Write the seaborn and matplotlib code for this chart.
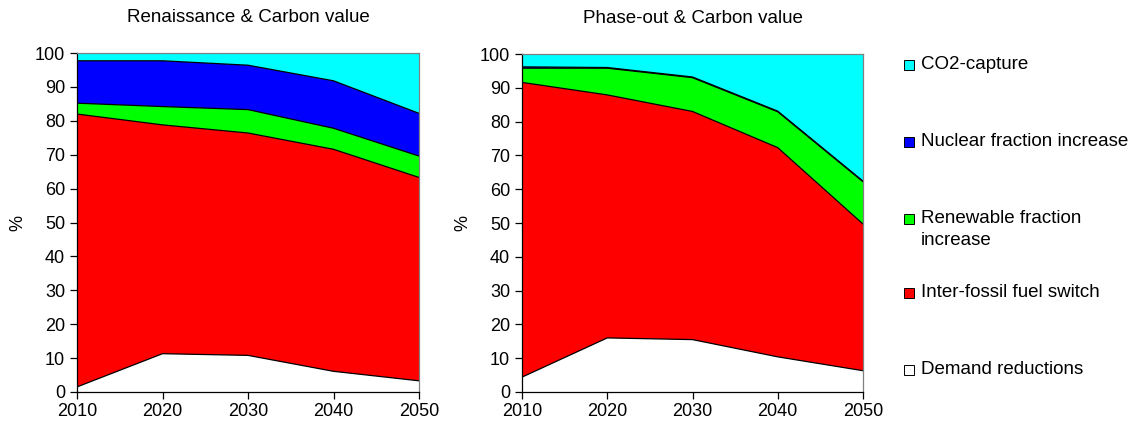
import numpy as np
import pandas as pd
import matplotlib
matplotlib.use("Agg")
import matplotlib.pyplot as plt
from matplotlib.patches import Rectangle
import seaborn as sns

years = [2010, 2020, 2030, 2040, 2050]
categories = ["Demand reductions", "Inter-fossil fuel switch",
              "Renewable fraction\nincrease", "Nuclear fraction increase", "CO2-capture"]
colors = ["#FFFFFF", "#FF0000", "#00FF00", "#0000FF", "#00FFFF"]

# Renaissance & Carbon value (shares, %)
ren_demand = [1.5, 11.3, 10.8, 6.1, 3.3]
ren_fossil = [80.5, 67.5, 65.6, 65.5, 60.0]
ren_renew = [3.2, 5.4, 6.9, 6.2, 6.3]
ren_nuclear = [12.5, 13.5, 13.1, 14.0, 12.6]
ren_ccs = [2.3, 2.3, 3.6, 8.2, 17.8]

# Phase-out & Carbon value (shares, %)
pho_demand = [4.4, 16.0, 15.5, 10.4, 6.3]
pho_fossil = [87.2, 71.9, 67.5, 61.9, 43.4]
pho_renew = [4.2, 7.9, 10.0, 10.6, 12.5]
pho_nuclear = [0.4, 0.2, 0.2, 0.2, 0.2]
pho_ccs = [3.8, 4.0, 6.8, 16.9, 37.6]

titles = ["Renaissance & Carbon value", "Phase-out & Carbon value"]

sns.set_style("white")
plt.rcParams["font.family"] = ["Liberation Sans", "DejaVu Sans"]
plt.rcParams["text.color"] = "black"
plt.rcParams["axes.labelcolor"] = "black"
plt.rcParams["xtick.color"] = "black"
plt.rcParams["ytick.color"] = "black"

fig = plt.figure(figsize=(11.38, 4.30), dpi=100)
W, H = 1138, 430
ax1 = fig.add_axes([77 / W, 1 - 392 / H, (419 - 77) / W, (392 - 53) / H])
ax2 = fig.add_axes([522 / W, 1 - 392 / H, (863 - 522) / W, (392 - 54) / H])

datasets = [
    [ren_demand, ren_fossil, ren_renew, ren_nuclear, ren_ccs],
    [pho_demand, pho_fossil, pho_renew, pho_nuclear, pho_ccs],
]

for ax, data, title in zip([ax1, ax2], datasets, titles):
    ax.stackplot(years, *data, colors=colors, edgecolor="none")
    cum = np.cumsum(np.array(data), axis=0)
    for i in range(len(data) - 1):
        df = pd.DataFrame({"year": years, "v": cum[i]})
        sns.lineplot(data=df, x="year", y="v", ax=ax, color="black", lw=0.9)
    ax.set_xlim(2010, 2050)
    ax.set_ylim(0, 100)
    ax.set_xticks(years)
    ax.set_yticks(range(0, 101, 10))
    ax.tick_params(axis="both", which="both", direction="out", length=5, width=0.9,
                   color="black", labelcolor="black", labelsize=13, left=True, bottom=True)
    ax.tick_params(axis="x", pad=3)
    ax.set_xlabel("")
    ax.set_ylabel("%", fontsize=13, labelpad=6, color="black")
    ax.set_title(title, fontsize=13.5, pad=22, color="black")
    for s in ["left", "bottom"]:
        ax.spines[s].set_color("black")
        ax.spines[s].set_linewidth(0.9)
    for s in ["top", "right"]:
        ax.spines[s].set_color("#808080")
        ax.spines[s].set_linewidth(0.9)
    ax.grid(False)

# Legend (manual, top to bottom)
leg_items = [
    ("CO2-capture", "#00FFFF", 65),
    ("Nuclear fraction increase", "#0000FF", 142),
    ("Renewable fraction\nincrease", "#00FF00", 219),
    ("Inter-fossil fuel switch", "#FF0000", 293),
    ("Demand reductions", "#FFFFFF", 370),
]
for label, col, yc in leg_items:
    fig.patches.append(Rectangle((904 / W, 1 - (yc + 5) / H), 10 / W, 10 / H,
                                 transform=fig.transFigure, facecolor=col,
                                 edgecolor="black", linewidth=0.7))
    fig.text(921 / W, 1 - (yc - 9) / H, label, fontsize=13.5, va="top", ha="left",
             linespacing=1.4, color="black")

fig.savefig("out.png", dpi=100)
